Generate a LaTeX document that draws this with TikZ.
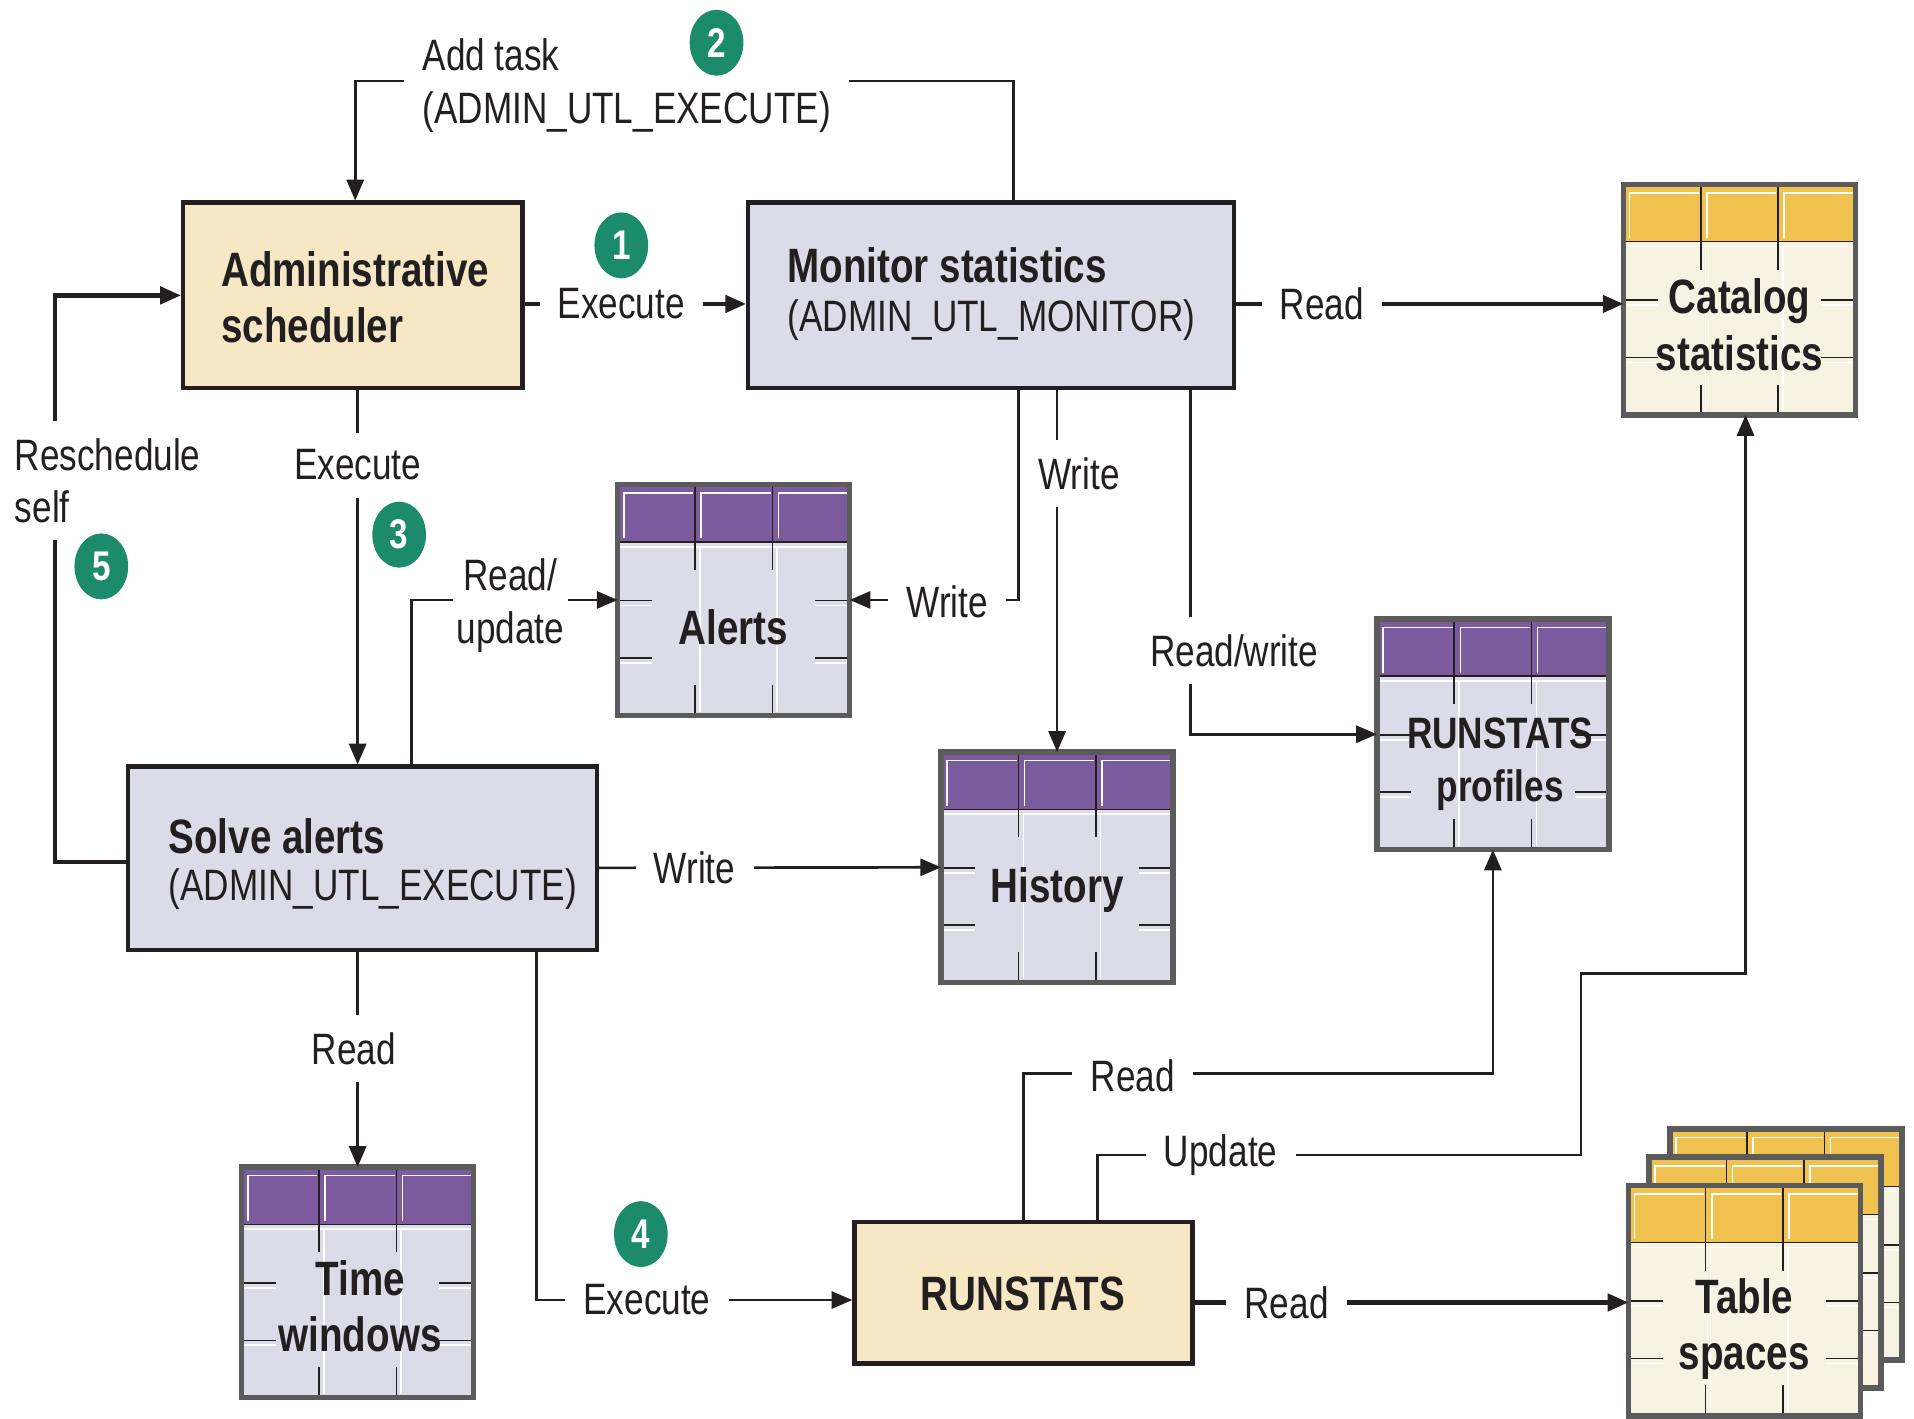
\documentclass[tikz,border=0pt]{standalone}
\usepackage{fontspec}
\setmainfont{Liberation Sans}[FakeStretch=0.8]
\usetikzlibrary{arrows.meta,shapes.geometric,calc}
\definecolor{linec}{HTML}{231F20}
\definecolor{beige}{HTML}{F6E7C5}
\definecolor{lav}{HTML}{DCDBE8}
\definecolor{pur}{HTML}{7B5B9E}
\definecolor{yel}{HTML}{F0C24F}
\definecolor{cream}{HTML}{F8F2E2}
\definecolor{tgray}{HTML}{5B5B5B}
\definecolor{greenc}{HTML}{1B8B6B}
\newcommand\regf{\fontsize{36}{43}\selectfont}
\newcommand\bldf{\fontsize{39.5}{46}\selectfont\bfseries}
\tikzset{
 box/.style={draw=linec, line width=3.5pt, inner sep=0pt},
 tabnode/.style={inner sep=0pt, outer sep=0pt, minimum width=190pt, minimum height=189pt, draw=none},
 hl/.style={draw=white, line width=1.3pt},
 tl/.style={draw=linec, line width=1.3pt},
 tb/.style={draw=tgray, line width=4.5pt},
 thn/.style={draw=linec, line width=2.2pt, -{Triangle[length=17pt,width=14pt]}},
 thk/.style={draw=linec, line width=3.5pt, -{Triangle[length=17pt,width=14pt]}},
 lbl/.style={fill=white, font=\regf, text=linec, inner xsep=15pt, inner ysep=14pt, align=center},
 btxt/.style={font=\bldf, text=linec, inner sep=0pt, align=center},
 rtxt/.style={font=\regf, text=linec, inner sep=0pt},
 num/.style={ellipse, fill=greenc, text=white, font=\fontsize{34}{34}\selectfont\bfseries, minimum width=44pt, minimum height=54pt, inner sep=0pt},
}
\newcommand\dbtable[5]{%
 \node[tabnode, fill=#5, anchor=north west] (#1) at (#2,#3) {};
 \begin{scope}[shift={(#2,#3)}]
  \fill[#4] (0,0) rectangle (190,47);
  \foreach \qq in {0,63.3,126.7}{\draw[hl] (\qq+5,44) -- (\qq+5,7) -- (\qq+62,7);}
  \draw[hl] (0,51) -- (190,51);
  \foreach \qq in {63.3,126.7}{\draw[hl] (\qq+4,51) -- (\qq+4,186);}
  \foreach \rr in {95,142}{\draw[hl] (0,\rr+4) -- (28,\rr+4); \draw[hl] (162,\rr+4) -- (190,\rr+4);}
  \draw[tl] (0,47) -- (190,47);
  \foreach \qq in {63.3,126.7}{\draw[tl] (\qq,0) -- (\qq,70); \draw[tl] (\qq,164) -- (\qq,189);}
  \foreach \rr in {95,142}{\draw[tl] (0,\rr) -- (28,\rr); \draw[tl] (162,\rr) -- (190,\rr);}
  \draw[tb] (0,0) rectangle (190,189);
 \end{scope}}
\begin{document}
\begin{tikzpicture}[x=1pt,y=-1pt]
\useasboundingbox (0,0) rectangle (1568,1162);
\fill[white] (0,0) rectangle (1568,1162);

% process boxes
\node[box, fill=beige, minimum width=278pt, minimum height=152pt] (adm) at (289,242) {};
\node[box, fill=lav, minimum width=398pt, minimum height=152pt] (mon) at (812,242) {};
\node[box, fill=lav, minimum width=384pt, minimum height=150pt] (sol) at (297,703) {};
\node[box, fill=beige, minimum width=277pt, minimum height=116pt] (rs) at (838.5,1059) {};

\node[btxt, anchor=west, align=left] (admT) at (181,243.5) {Administrative\\scheduler};
\node[btxt, anchor=west] (monT) at (645,217) {Monitor statistics};
\node[rtxt, anchor=west] (monS) at (645,262) {(ADMIN\_UTL\_MONITOR)};
\node[btxt, anchor=west] (solT) at (138,685) {Solve alerts};
\node[rtxt, anchor=west] (solS) at (138,728) {(ADMIN\_UTL\_EXECUTE)};
\node[btxt] (rsT) at (838,1060) {RUNSTATS};

% tables
\dbtable{cat}{1330}{151}{yel}{cream}
\node[btxt] (catT) at (1425,266) {Catalog\\statistics};
\dbtable{alerts}{506}{397}{pur}{lav}
\node[btxt] (alT) at (601,514) {Alerts};
\dbtable{hist}{771}{616}{pur}{lav}
\node[btxt] (hiT) at (866,729) {History};
\dbtable{rprof}{1128}{507}{pur}{lav}
\node[btxt, font=\fontsize{36}{43}\selectfont\bfseries] (rpT) at (1229,626) {RUNSTATS\\profiles};
\dbtable{timew}{198}{956}{pur}{lav}
\node[btxt] (twT) at (295,1070) {Time\\windows};
\dbtable{tsc}{1368}{925}{yel}{cream}
\dbtable{tsb}{1351}{948}{yel}{cream}
\dbtable{tsa}{1334}{971}{yel}{cream}
\node[btxt] (tsT) at (1429,1089) {Table\\spaces};

% connectors
\coordinate (p1) at ($(adm.east)+(0,7)$);
\draw[thk] (p1) -- (p1 -| mon.west);
\draw[thn] ($(mon.north west)+(219,0)$) -- ++(0,-98) -| ($(adm.north)+(2,0)$);
\coordinate (p3) at ($(mon.east)+(0,7)$);
\draw[thk] (p3) -- (p3 -| cat.west);
\draw[thn] ($(mon.south west)+(223,0)$) |- (alerts.east);
\draw[thn] (mon.south -| hist.north) -- (hist.north);
\draw[thn] ($(mon.south west)+(364,0)$) |- (rprof.west);
\coordinate (p7) at ($(adm.south)+(4,0)$);
\draw[thn] (p7) -- (p7 |- sol.north);
\draw[thn] ($(sol.north west)+(234,0)$) |- (alerts.west);
\draw[thk] ($(sol.west)+(0,3)$) -- ++(-58,0) |- (adm.west);
\draw[thn] ($(sol.east)+(0,8)$) -- (hist.west);
\draw[thn] (sol.south -| timew.north) -- (timew.north);
\draw[thn] ($(sol.south west)+(336,0)$) |- ($(rs.west)+(0,6)$);
\coordinate (p13) at ($(rs.east)+(0,8)$);
\draw[thk] (p13) -- (p13 -| tsa.west);
\draw[thn] ($(rs.north west)+(140,0)$) -- ++(0,-120) -| (rprof.south);
\draw[thn] ($(rs.north west)+(201,0)$) -- ++(0,-53) -- ++(396,0) -- ++(0,-149) -| ($(cat.south)+(5,0)$);

% labels
\node[lbl] (l1) at (509,249) {Execute};
\node[lbl, align=left, anchor=west] (l2) at (331,70) {Add task\\(ADMIN\_UTL\_EXECUTE)};
\node[lbl] (l3) at (1083,249) {Read};
\node[lbl] (l4) at (776,493) {Write};
\node[lbl, inner xsep=2pt] (l5) at (884,388) {Write};
\node[lbl] (l6) at (1011,533) {Read/write};
\node[lbl] (l7) at (293,381) {Execute};
\node[lbl, inner xsep=3pt] (l8) at (418,496) {Read/\\update};
\node[lbl, align=left, anchor=west, inner xsep=10pt] (l9) at (2,394) {Reschedule\\self};
\node[lbl] (l10) at (569,711) {Write};
\node[lbl] (l11) at (290,859) {Read};
\node[lbl] (l12) at (530,1065) {Execute};
\node[lbl] (l13) at (1054,1067) {Read};
\node[lbl] (l14) at (928,881) {Read};
\node[lbl] (l15) at (1000,946) {Update};

% step numbers
\node[num] (c1) at (509,201) {1};
\node[num] (c2) at (587,35) {2};
\node[num] (c3) at (327,438) {3};
\node[num] (c4) at (525,1011) {4};
\node[num] (c5) at (83,464) {5};
\end{tikzpicture}
\end{document}
